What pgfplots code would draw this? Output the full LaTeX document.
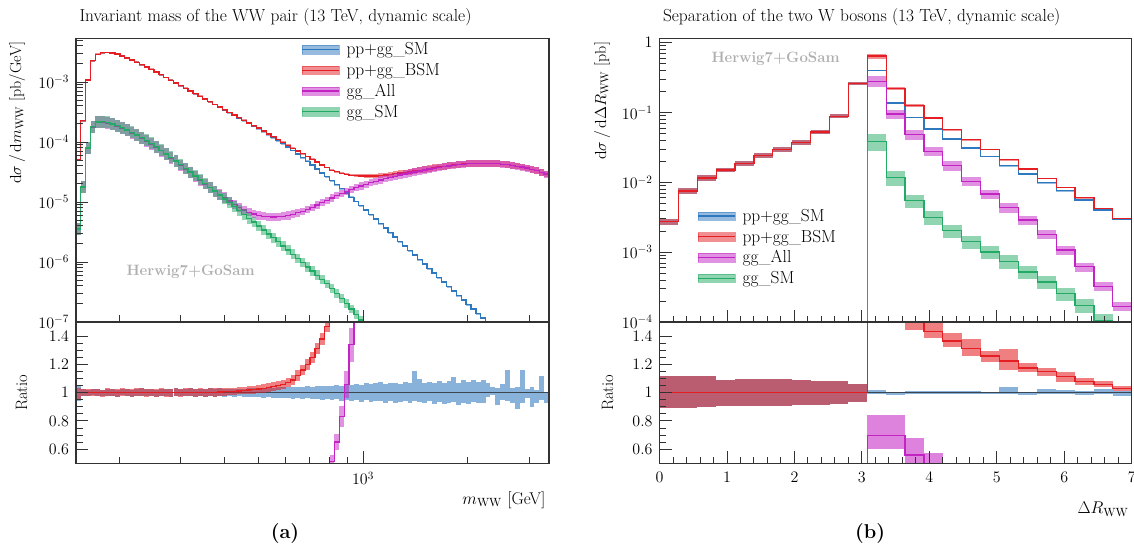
\RequirePackage{fix-cm}
\documentclass[border=0pt]{standalone}
\usepackage{pgfplots}
\pgfplotsset{compat=1.18}
\usepackage{pgfplotstable}

\definecolor{cblue}{RGB}{45,120,190}
\definecolor{cred}{RGB}{228,30,35}
\definecolor{cmag}{RGB}{195,35,195}
\definecolor{cgreen}{RGB}{35,170,100}
\definecolor{cframe}{RGB}{50,50,50}
\definecolor{cone}{RGB}{60,70,80}
\definecolor{cherwig}{RGB}{175,175,175}

\newcommand{\fs}{\fontsize{16}{19}\selectfont}
\newcommand{\ft}{\fontsize{17.4}{20.5}\selectfont}
\newcommand{\legimg}[1]{\addlegendimage{legend image code/.code={\fill[#1,opacity=0.5] (0pt,-4.2pt) rectangle (37pt,4.2pt); \draw[#1,line width=1.4pt] (0pt,0pt) -- (37pt,0pt);}}}

% left panel: x = log10(m_WW/GeV), y = log10(dsigma/dm)
\pgfplotstableread{
L sm bsm all gg ebsm eall egg
2.176 -4.300 -4.300 -5.458 -5.450 .015 .10 .10
2.190 -3.645 -3.645 -4.758 -4.750 .015 .10 .10
2.204 -2.967 -2.967 -4.108 -4.100 .015 .10 .10
2.218 -2.645 -2.645 -3.753 -3.745 .015 .10 .10
2.232 -2.538 -2.538 -3.673 -3.665 .015 .10 .10
2.246 -2.512 -2.512 -3.668 -3.660 .015 .10 .10
2.260 -2.508 -2.508 -3.683 -3.675 .015 .10 .10
2.274 -2.515 -2.515 -3.708 -3.700 .015 .10 .10
2.288 -2.535 -2.535 -3.738 -3.730 .015 .10 .10
2.302 -2.565 -2.565 -3.772 -3.764 .015 .10 .10
2.316 -2.600 -2.600 -3.808 -3.800 .015 .10 .10
2.330 -2.635 -2.635 -3.848 -3.840 .015 .10 .10
2.344 -2.670 -2.670 -3.890 -3.882 .015 .10 .10
2.358 -2.710 -2.710 -3.935 -3.927 .015 .10 .10
2.372 -2.750 -2.750 -3.983 -3.975 .015 .10 .10
2.386 -2.790 -2.790 -4.033 -4.025 .015 .10 .10
2.400 -2.835 -2.835 -4.088 -4.080 .015 .10 .10
2.414 -2.880 -2.880 -4.146 -4.138 .015 .10 .10
2.428 -2.925 -2.925 -4.206 -4.198 .015 .10 .10
2.442 -2.970 -2.970 -4.265 -4.257 .015 .10 .10
2.456 -3.015 -3.015 -4.325 -4.317 .015 .10 .10
2.470 -3.060 -3.060 -4.386 -4.378 .015 .09 .09
2.484 -3.105 -3.105 -4.448 -4.440 .015 .09 .09
2.498 -3.150 -3.150 -4.510 -4.502 .015 .09 .09
2.512 -3.195 -3.195 -4.573 -4.565 .015 .09 .09
2.526 -3.240 -3.240 -4.636 -4.628 .015 .09 .09
2.540 -3.285 -3.285 -4.699 -4.691 .015 .09 .09
2.554 -3.330 -3.330 -4.763 -4.755 .015 .09 .09
2.568 -3.375 -3.374 -4.825 -4.819 .015 .09 .09
2.582 -3.420 -3.418 -4.870 -4.883 .015 .09 .09
2.596 -3.465 -3.462 -4.925 -4.948 .015 .09 .09
2.610 -3.510 -3.507 -4.985 -5.013 .015 .07 .09
2.624 -3.555 -3.551 -5.040 -5.078 .015 .07 .09
2.638 -3.600 -3.595 -5.090 -5.142 .015 .07 .09
2.652 -3.645 -3.639 -5.135 -5.206 .015 .07 .09
2.666 -3.690 -3.682 -5.170 -5.270 .015 .07 .09
2.680 -3.735 -3.726 -5.200 -5.335 .015 .07 .08
2.694 -3.780 -3.769 -5.222 -5.400 .015 .07 .08
2.708 -3.830 -3.817 -5.238 -5.465 .015 .07 .08
2.722 -3.880 -3.865 -5.247 -5.531 .015 .07 .08
2.736 -3.930 -3.912 -5.250 -5.597 .015 .07 .08
2.750 -3.980 -3.958 -5.246 -5.664 .015 .07 .08
2.764 -4.030 -4.005 -5.237 -5.732 .015 .07 .08
2.778 -4.085 -4.055 -5.222 -5.801 .015 .07 .08
2.792 -4.140 -4.103 -5.203 -5.871 .015 .07 .08
2.806 -4.200 -4.151 -5.180 -5.941 .015 .07 .08
2.820 -4.260 -4.196 -5.153 -6.011 .015 .06 .08
2.834 -4.320 -4.241 -5.123 -6.081 .015 .06 .08
2.848 -4.385 -4.288 -5.091 -6.151 .015 .06 .08
2.862 -4.450 -4.333 -5.050 -6.221 .015 .06 .08
2.876 -4.515 -4.385 -5.010 -6.291 .015 .06 .08
2.890 -4.580 -4.425 -4.972 -6.362 .015 .06 .07
2.904 -4.645 -4.470 -4.934 -6.440 .015 .06 .07
2.918 -4.710 -4.496 -4.897 -6.522 .015 .06 .07
2.932 -4.780 -4.521 -4.861 -6.606 .015 .06 .07
2.946 -4.850 -4.540 -4.826 -6.693 .015 .06 .07
2.960 -4.920 -4.554 -4.793 -6.782 .020 .06 .07
2.974 -4.990 -4.562 -4.762 -6.874 .022 .06 .07
2.988 -5.060 -4.565 -4.733 -6.968 .025 .06 .07
3.002 -5.135 -4.568 -4.706 -7.065 .027 .06 .07
3.016 -5.210 -4.568 -4.681 -7.165 .030 .06 .07
3.030 -5.285 -4.565 -4.657 -7.270 .032 .06 .07
3.044 -5.360 -4.559 -4.634 -7.380 .035 .06 .07
3.058 -5.435 -4.551 -4.612 nan .037 .06 0
3.072 -5.510 -4.542 -4.591 nan .040 .06 0
3.086 -5.585 -4.531 -4.571 nan .042 .06 0
3.100 -5.660 -4.519 -4.552 nan .045 .06 0
3.114 -5.735 -4.508 -4.534 nan .047 .06 0
3.128 -5.810 -4.496 -4.517 nan .050 .06 0
3.142 -5.885 -4.483 -4.500 nan .052 .06 0
3.156 -5.960 -4.470 -4.484 nan .055 .06 0
3.170 -6.035 -4.456 -4.468 nan .055 .06 0
3.184 -6.110 -4.442 -4.452 nan .055 .06 0
3.198 -6.185 -4.429 -4.437 nan .055 .06 0
3.212 -6.260 -4.416 -4.423 nan .055 .06 0
3.226 -6.335 -4.404 -4.410 nan .055 .06 0
3.240 -6.410 -4.393 -4.398 nan .055 .06 0
3.254 -6.485 -4.383 -4.387 nan .055 .06 0
3.268 -6.560 -4.375 -4.378 nan .055 .06 0
3.282 -6.635 -4.368 -4.370 nan .055 .06 0
3.296 -6.710 -4.362 -4.364 nan .055 .06 0
3.310 -6.785 -4.358 -4.359 nan .055 .06 0
3.324 -6.860 -4.355 -4.356 nan .055 .06 0
3.338 -6.935 -4.354 -4.355 nan .055 .06 0
3.352 -7.010 -4.355 -4.356 nan .055 .06 0
3.366 -7.090 -4.358 -4.359 nan .055 .06 0
3.380 -7.170 -4.363 -4.364 nan .055 .06 0
3.394 -7.250 -4.370 -4.371 nan .055 .06 0
3.408 -7.330 -4.379 -4.380 nan .055 .06 0
3.422 nan -4.390 -4.391 nan .055 .06 0
3.436 nan -4.403 -4.404 nan .055 .06 0
3.450 nan -4.418 -4.419 nan .055 .06 0
3.464 nan -4.435 -4.436 nan .055 .06 0
3.478 nan -4.455 -4.456 nan .055 .06 0
3.492 nan -4.478 -4.479 nan .055 .06 0
3.506 nan -4.505 -4.506 nan .055 .06 0
3.520 nan -4.535 -4.536 nan .055 .06 0
3.534 nan -4.535 -4.536 nan 0 0 0
}\lmain

% left ratio panel
\pgfplotstableread{
L one bu bl rb rbu rbl ra rae
2.176 1 .045 .060 1.000 .032 .054 nan 0
2.190 1 .025 .023 1.000 .027 .025 nan 0
2.204 1 .021 .025 1.000 .023 .027 nan 0
2.218 1 .027 .019 1.000 .029 .021 nan 0
2.232 1 .023 .025 1.000 .025 .027 nan 0
2.246 1 .020 .027 1.000 .022 .029 nan 0
2.260 1 .028 .021 1.000 .030 .023 nan 0
2.274 1 .024 .023 1.000 .026 .025 nan 0
2.288 1 .021 .028 1.000 .023 .030 nan 0
2.302 1 .029 .020 1.000 .031 .022 nan 0
2.316 1 .025 .024 1.000 .027 .026 nan 0
2.330 1 .022 .029 1.000 .024 .031 nan 0
2.344 1 .028 .023 1.000 .030 .025 nan 0
2.358 1 .030 .021 1.000 .032 .023 nan 0
2.372 1 .023 .027 1.000 .025 .029 nan 0
2.386 1 .027 .025 1.000 .029 .027 nan 0
2.400 1 .021 .030 1.000 .023 .032 nan 0
2.414 1 .029 .023 1.000 .031 .025 nan 0
2.428 1 .026 .026 1.000 .028 .028 nan 0
2.442 1 .023 .029 1.000 .025 .031 nan 0
2.456 1 .031 .022 1.000 .033 .024 nan 0
2.470 1 .025 .027 1.000 .027 .029 nan 0
2.484 1 .028 .025 1.000 .030 .027 nan 0
2.498 1 .033 .021 1.000 .035 .023 nan 0
2.512 1 .024 .029 1.000 .026 .031 nan 0
2.526 1 .029 .025 1.000 .031 .027 nan 0
2.540 1 .027 .028 1.000 .029 .030 nan 0
2.554 1 .032 .023 1.000 .034 .025 nan 0
2.568 1 .026 .030 1.003 .028 .032 nan 0
2.582 1 .030 .026 1.004 .032 .028 nan 0
2.596 1 .028 .029 1.006 .030 .031 nan 0
2.610 1 .027 .025 1.008 .028 .024 nan 0
2.624 1 .026 .029 1.010 .024 .028 nan 0
2.638 1 .029 .026 1.012 .029 .025 nan 0
2.652 1 .028 .031 1.015 .026 .028 nan 0
2.666 1 .031 .028 1.018 .030 .026 nan 0
2.680 1 .030 .033 1.021 .027 .029 nan 0
2.694 1 .033 .030 1.025 .031 .027 nan 0
2.708 1 .034 .036 1.030 .028 .030 nan 0
2.722 1 .037 .033 1.036 .032 .028 nan 0
2.736 1 .035 .038 1.043 .030 .031 nan 0
2.750 1 .039 .035 1.051 .033 .030 nan 0
2.764 1 .037 .041 1.060 .031 .033 nan 0
2.778 1 .041 .037 1.071 .034 .031 nan 0
2.792 1 .039 .043 1.090 .035 .033 nan 0
2.806 1 .043 .039 1.120 .037 .035 nan 0
2.820 1 .041 .045 1.160 .038 .036 nan 0
2.834 1 .046 .040 1.200 .040 .037 0.160 .014
2.848 1 .043 .047 1.250 .041 .039 0.197 .018
2.862 1 .048 .042 1.310 .043 .040 0.250 .023
2.876 1 .045 .049 1.380 .045 .042 0.320 .029
2.890 1 .050 .044 1.470 .047 .044 0.405 .036
2.904 1 .047 .052 1.570 .050 .046 0.514 .046
2.918 1 .055 .047 1.680 .050 .050 0.650 .058
2.932 1 .050 .058 1.800 .050 .050 0.830 .075
2.946 1 .058 .050 nan 0 0 1.057 .095
2.960 1 .052 .060 nan 0 0 1.340 .120
2.974 1 .062 .052 nan 0 0 1.690 .150
2.988 1 .055 .063 nan 0 0 2.120 .190
3.002 1 .065 .054 nan 0 0 nan 0
3.016 1 .058 .066 nan 0 0 nan 0
3.030 1 .068 .056 nan 0 0 nan 0
3.044 1 .075 .060 nan 0 0 nan 0
3.058 1 .060 .070 nan 0 0 nan 0
3.072 1 .066 .062 nan 0 0 nan 0
3.086 1 .070 .075 nan 0 0 nan 0
3.100 1 .062 .068 nan 0 0 nan 0
3.114 1 .072 .060 nan 0 0 nan 0
3.128 1 .065 .074 nan 0 0 nan 0
3.142 1 .150 .060 nan 0 0 nan 0
3.156 1 .100 .065 nan 0 0 nan 0
3.170 1 .068 .075 nan 0 0 nan 0
3.184 1 .075 .062 nan 0 0 nan 0
3.198 1 .070 .080 nan 0 0 nan 0
3.212 1 .085 .065 nan 0 0 nan 0
3.226 1 .065 .082 nan 0 0 nan 0
3.240 1 .080 .070 nan 0 0 nan 0
3.254 1 .110 .065 nan 0 0 nan 0
3.268 1 .070 .085 nan 0 0 nan 0
3.282 1 .090 .070 nan 0 0 nan 0
3.296 1 .075 .080 nan 0 0 nan 0
3.310 1 .090 .064 nan 0 0 nan 0
3.324 1 .078 .075 nan 0 0 nan 0
3.338 1 .090 .070 nan 0 0 nan 0
3.352 1 .066 .028 nan 0 0 nan 0
3.366 1 .042 .017 nan 0 0 nan 0
3.380 1 .030 .087 nan 0 0 nan 0
3.394 1 .061 .052 nan 0 0 nan 0
3.408 1 .160 .057 nan 0 0 nan 0
3.422 1 .030 .075 nan 0 0 nan 0
3.436 1 .042 .118 nan 0 0 nan 0
3.450 1 .160 .075 nan 0 0 nan 0
3.464 1 .024 .040 nan 0 0 nan 0
3.478 1 .042 .100 nan 0 0 nan 0
3.492 1 .019 .075 nan 0 0 nan 0
3.506 1 .118 .052 nan 0 0 nan 0
3.520 1 .007 .075 nan 0 0 nan 0
3.534 1 0 0 nan 0 0 nan 0
}\lratio

% right panel
\pgfplotstableread{
x sm bsm all gg esm ebsm eall egg
0.00 2.73e-3 2.73e-3 nan nan 0.10 0.10 0 0
0.28 7.50e-3 7.50e-3 nan nan 0.09 0.09 0 0
0.56 1.15e-2 1.15e-2 nan nan 0.09 0.09 0 0
0.84 1.51e-2 1.51e-2 nan nan 0.08 0.08 0 0
1.12 1.88e-2 1.88e-2 nan nan 0.08 0.08 0 0
1.40 2.40e-2 2.40e-2 nan nan 0.08 0.08 0 0
1.68 2.93e-2 2.93e-2 nan nan 0.08 0.08 0 0
1.96 3.73e-2 3.73e-2 nan nan 0.075 0.075 0 0
2.24 5.25e-2 5.25e-2 nan nan 0.07 0.07 0 0
2.52 8.83e-2 8.83e-2 nan nan 0.065 0.065 0 0
2.80 0.260 0.260 nan nan 0.05 0.05 0 0
3.08 nan nan 1e-6 1e-6 0 0 0 0
3.08 0.400 0.643 0.281 0.0386 0.015 0.08 0.18 0.26
3.36 0.137 0.223 0.0954 0.01186 0.015 0.05 0.14 0.24
3.64 0.0854 0.126 0.0481 5.47e-3 0.015 0.045 0.15 0.22
3.92 0.0580 0.0836 0.0277 3.16e-3 0.015 0.04 0.15 0.22
4.20 0.0417 0.0569 0.0173 2.03e-3 0.015 0.035 0.15 0.22
4.48 0.0310 0.0407 0.0103 1.41e-3 0.015 0.035 0.15 0.22
4.76 0.0235 0.0296 6.83e-3 1.01e-3 0.015 0.03 0.15 0.22
5.04 0.0173 0.0212 4.35e-3 7.43e-4 0.015 0.03 0.15 0.22
5.32 0.0132 0.0155 2.88e-3 5.22e-4 0.015 0.025 0.15 0.22
5.60 9.93e-3 0.0114 1.80e-3 3.75e-4 0.015 0.02 0.15 0.22
5.88 7.62e-3 8.50e-3 1.07e-3 2.55e-4 0.015 0.02 0.15 0.22
6.16 5.60e-3 6.04e-3 6.17e-4 1.73e-4 0.015 0.02 0.15 0.22
6.44 4.02e-3 4.25e-3 3.25e-4 1.05e-4 0.015 0.015 0.15 0.22
6.72 2.98e-3 3.07e-3 1.68e-4 6.50e-5 0.015 0.015 0.15 0.22
7.00 2.98e-3 3.07e-3 1.68e-4 6.50e-5 0 0 0 0
}\rmain

\pgfplotstableread{
x one bu bl rr rru rrl ra rau ral
0.00 1 0.120 0.108 1 0.120 0.108 nan 0 0
0.28 1 0.115 0.106 1 0.115 0.106 nan 0 0
0.56 1 0.115 0.101 1 0.115 0.101 nan 0 0
0.84 1 0.091 0.096 1 0.091 0.096 nan 0 0
1.12 1 0.096 0.098 1 0.096 0.098 nan 0 0
1.40 1 0.096 0.096 1 0.096 0.096 nan 0 0
1.68 1 0.096 0.094 1 0.096 0.094 nan 0 0
1.96 1 0.091 0.089 1 0.091 0.089 nan 0 0
2.24 1 0.084 0.084 1 0.084 0.084 nan 0 0
2.52 1 0.079 0.077 1 0.079 0.077 nan 0 0
2.80 1 0.062 0.065 1 0.062 0.065 nan 0 0
3.08 nan 0 0 nan 0 0 0.30 0 0
3.08 1 0.020 0.005 1.610 0.10 0.10 0.695 0.144 0.096
3.36 1 0.007 0.017 1.630 0.08 0.08 0.695 0.144 0.096
3.64 1 0.014 0.005 1.505 0.05 0.06 0.558 0.118 0.068
3.92 1 0.012 0.005 1.432 0.068 0.047 0.480 0.090 0.080
4.20 1 0.012 0.003 1.365 0.055 0.041 0.400 0.070 0.070
4.48 1 0.012 0.005 1.312 0.068 0.052 0.330 0.060 0.060
4.76 1 0.007 0.005 1.259 0.036 0.043 nan 0 0
5.04 1 0.038 0.005 1.223 0.084 0.060 nan 0 0
5.32 1 0.007 0.017 1.175 0.036 0.031 nan 0 0
5.60 1 0.024 0.005 1.149 0.026 0.029 nan 0 0
5.88 1 0.019 0.012 1.115 0.031 0.043 nan 0 0
6.16 1 0.012 0.017 1.079 0.024 0.024 nan 0 0
6.44 1 0.024 0.005 1.058 0.021 0.015 nan 0 0
6.72 1 0.012 0.024 1.031 0.017 0.017 nan 0 0
7.00 1 0 0 1.031 0 0 nan 0 0
}\rratio

% band drawn as one rectangle per bin (error bar as wide as the bin)
\newcommand{\bandL}[4]{\addplot[draw=none, mark=none, forget plot, error bars/.cd, y dir=both, y explicit, error mark=none, error bar style={draw=#1, opacity=0.5, line width=4.876pt, xshift=2.438pt}] table[x=L, y=#2, y error=#3] {#4};}
\newcommand{\bandLa}[5]{\addplot[draw=none, mark=none, forget plot, error bars/.cd, y dir=both, y explicit, error mark=none, error bar style={draw=#1, opacity=0.57, line width=4.876pt, xshift=2.438pt}] table[x=L, y=#2, y error plus=#3, y error minus=#4] {#5};}
\newcommand{\bandR}[4]{\addplot[draw=none, mark=none, forget plot, error bars/.cd, y dir=both, y explicit relative, error mark=none, error bar style={draw=#1, opacity=0.5, line width=18.89pt, xshift=9.445pt}] table[x=x, y=#2, y error=#3] {#4};}
\newcommand{\bandRa}[5]{\addplot[draw=none, mark=none, forget plot, error bars/.cd, y dir=both, y explicit, error mark=none, error bar style={draw=#1, opacity=0.57, line width=18.89pt, xshift=9.445pt}] table[x=x, y=#2, y error plus=#3, y error minus=#4] {#5};}

\pgfplotsset{
  rivet/.style={scale only axis, axis on top, tick align=inside,
    xtick pos=left, ytick pos=left,
    major tick length=12pt, minor tick length=6.5pt,
    axis line style={cframe, line width=1.1pt},
    tick style={cframe, line width=0.9pt},
    tick label style={font=\fs},
    yticklabel style={xshift=-3.5pt},
    xticklabel style={yshift=-5pt}},
  hist/.style={const plot mark left, line width=1.3pt, forget plot, mark=none}
}

\begin{document}
\begin{tikzpicture}
\useasboundingbox (0pt,0pt) rectangle (1134pt,549pt);

% ---------------- left main
\begin{axis}[rivet, at={(76pt,227pt)}, anchor=south west, width=473pt, height=283.7pt,
  xmin=2.1761, xmax=3.534, ymin=-7, ymax=-2.272,
  xtick={3}, xticklabels={},
  minor xtick={2.30103,2.47712,2.60206,2.69897,2.77815,2.84510,2.90309,2.95424,3.30103,3.47712},
  ytick={-7,-6,-5,-4,-3},
  yticklabels={$10^{-7}$,$10^{-6}$,$10^{-5}$,$10^{-4}$,$10^{-3}$},
  minor ytick={-6.699,-6.523,-6.398,-6.301,-6.222,-6.155,-6.097,-6.046,
    -5.699,-5.523,-5.398,-5.301,-5.222,-5.155,-5.097,-5.046,
    -4.699,-4.523,-4.398,-4.301,-4.222,-4.155,-4.097,-4.046,
    -3.699,-3.523,-3.398,-3.301,-3.222,-3.155,-3.097,-3.046,
    -2.699,-2.523,-2.398,-2.301},
  legend cell align=left,
  legend style={draw=none, fill=none, font=\ft, at={(axis description cs:0.4757,0.992)}, anchor=north west, row sep=3pt, column sep=5pt, inner sep=0pt}]
\addplot[draw=none, mark=none, forget plot, error bars/.cd, y dir=both, y fixed=0.012, error mark=none, error bar style={draw=cblue, opacity=0.5, line width=4.876pt, xshift=2.438pt}] table[x=L, y=sm] {\lmain};
\addplot[hist, cblue] table[x=L, y=sm] {\lmain};
\bandL{cred}{bsm}{ebsm}{\lmain}
\addplot[hist, cred] table[x=L, y=bsm] {\lmain};
\bandL{cmag}{all}{eall}{\lmain}
\addplot[hist, cmag] table[x=L, y=all] {\lmain};
\bandL{cgreen}{gg}{egg}{\lmain}
\addplot[hist, cgreen] table[x=L, y=gg] {\lmain};
\legimg{cblue}\addlegendentry{pp+gg\_SM}
\legimg{cred}\addlegendentry{pp+gg\_BSM}
\legimg{cmag}\addlegendentry{gg\_All}
\legimg{cgreen}\addlegendentry{gg\_SM}
\end{axis}

% ---------------- left ratio
\begin{axis}[rivet, at={(76pt,85.7pt)}, anchor=south west, width=473pt, height=141.3pt,
  xmin=2.1761, xmax=3.534, ymin=0.5, ymax=1.5,
  xtick={3}, xticklabels={$10^{3}$},
  minor xtick={2.30103,2.47712,2.60206,2.69897,2.77815,2.84510,2.90309,2.95424,3.30103,3.47712},
  ytick={0.6,0.8,1,1.2,1.4}, minor y tick num=3]
\bandLa{cblue}{one}{bu}{bl}{\lratio}
\addplot[hist, cone, line width=1.2pt] table[x=L, y=one] {\lratio};
\bandLa{cred}{rb}{rbu}{rbl}{\lratio}
\addplot[hist, cred] table[x=L, y=rb] {\lratio};
\bandL{cmag}{ra}{rae}{\lratio}
\addplot[hist, cmag] table[x=L, y=ra] {\lratio};
\end{axis}

% ---------------- right main
\begin{axis}[rivet, at={(659.5pt,227pt)}, anchor=south west, width=472.2pt, height=283.7pt,
  xmin=0, xmax=7, ymode=log, ymin=1e-4, ymax=1.156,
  xtick={0,1,2,3,4,5,6,7}, xticklabels={}, minor x tick num=4,
  ytick={1e-4,1e-3,1e-2,1e-1,1},
  yticklabels={$10^{-4}$,$10^{-3}$,$10^{-2}$,$10^{-1}$,$1$},
  minor ytick={2e-4,3e-4,4e-4,5e-4,6e-4,7e-4,8e-4,9e-4,
    2e-3,3e-3,4e-3,5e-3,6e-3,7e-3,8e-3,9e-3,
    2e-2,3e-2,4e-2,5e-2,6e-2,7e-2,8e-2,9e-2,
    2e-1,3e-1,4e-1,5e-1,6e-1,7e-1,8e-1,9e-1},
  legend cell align=left,
  legend style={draw=none, fill=none, font=\ft, at={(axis description cs:0.0794,0.405)}, anchor=north west, row sep=3pt, column sep=5pt, inner sep=0pt}]
\bandR{cblue}{sm}{esm}{\rmain}
\addplot[hist, cblue] table[x=x, y=sm] {\rmain};
\bandR{cred}{bsm}{ebsm}{\rmain}
\addplot[hist, cred] table[x=x, y=bsm] {\rmain};
\bandR{cmag}{all}{eall}{\rmain}
\addplot[hist, cmag] table[x=x, y=all] {\rmain};
\bandR{cgreen}{gg}{egg}{\rmain}
\addplot[hist, cgreen] table[x=x, y=gg] {\rmain};
\legimg{cblue}\addlegendentry{pp+gg\_SM}
\legimg{cred}\addlegendentry{pp+gg\_BSM}
\legimg{cmag}\addlegendentry{gg\_All}
\legimg{cgreen}\addlegendentry{gg\_SM}
\end{axis}

% ---------------- right ratio
\begin{axis}[rivet, at={(659.5pt,85.7pt)}, anchor=south west, width=472.2pt, height=141.3pt,
  xmin=0, xmax=7, ymin=0.5, ymax=1.5,
  xtick={0,1,2,3,4,5,6,7}, minor x tick num=4,
  ytick={0.6,0.8,1,1.2,1.4}, minor y tick num=3]
\bandRa{cblue}{one}{bu}{bl}{\rratio}
\addplot[hist, cone, line width=1.2pt] table[x=x, y=one] {\rratio};
\bandRa{cred}{rr}{rru}{rrl}{\rratio}
\addplot[hist, cred] table[x=x, y=rr] {\rratio};
\bandRa{cmag}{ra}{rau}{ral}{\rratio}
\addplot[hist, cmag] table[x=x, y=ra] {\rratio};
\end{axis}

% ---------------- texts
\node[anchor=base west, font=\ft] at (76pt,527pt) {Invariant mass of the WW pair (13 TeV, dynamic scale)};
\node[anchor=base west, font=\ft] at (659.5pt,527pt) {Separation of the two W bosons (13 TeV, dynamic scale)};
\node[rotate=90, anchor=base east, font=\fs] at (21pt,510.7pt) {$\mathrm{d}\sigma\,/\,\mathrm{d}m_{\mathrm{WW}}$ [pb/GeV]};
\node[rotate=90, anchor=base, font=\fontsize{16.5}{19}\selectfont] at (27pt,156.3pt) {Ratio};
\node[rotate=90, anchor=base east, font=\fs] at (606pt,510.7pt) {$\mathrm{d}\sigma\,/\,\mathrm{d}\Delta R_{\mathrm{WW}}$ [pb]};
\node[rotate=90, anchor=base, font=\fontsize{16.5}{19}\selectfont] at (613pt,156.3pt) {Ratio};
\node[anchor=east, font=\fontsize{17}{20}\selectfont] at (549pt,49pt) {$m_{\mathrm{WW}}$ [GeV]};
\node[anchor=east, font=\fontsize{17}{20}\selectfont] at (1132pt,40pt) {$\Delta R_{\mathrm{WW}}$};
\node[anchor=west, font=\bfseries\fontsize{15}{18}\selectfont, text=cherwig] at (123pt,277pt) {Herwig7+GoSam};
\node[anchor=west, font=\bfseries\fontsize{15}{18}\selectfont, text=cherwig] at (708pt,490pt) {Herwig7+GoSam};
\node[font=\bfseries\fontsize{20}{24}\selectfont] at (285pt,15pt) {(a)};
\node[font=\bfseries\fontsize{20}{24}\selectfont] at (870pt,15pt) {(b)};
\end{tikzpicture}
\end{document}
